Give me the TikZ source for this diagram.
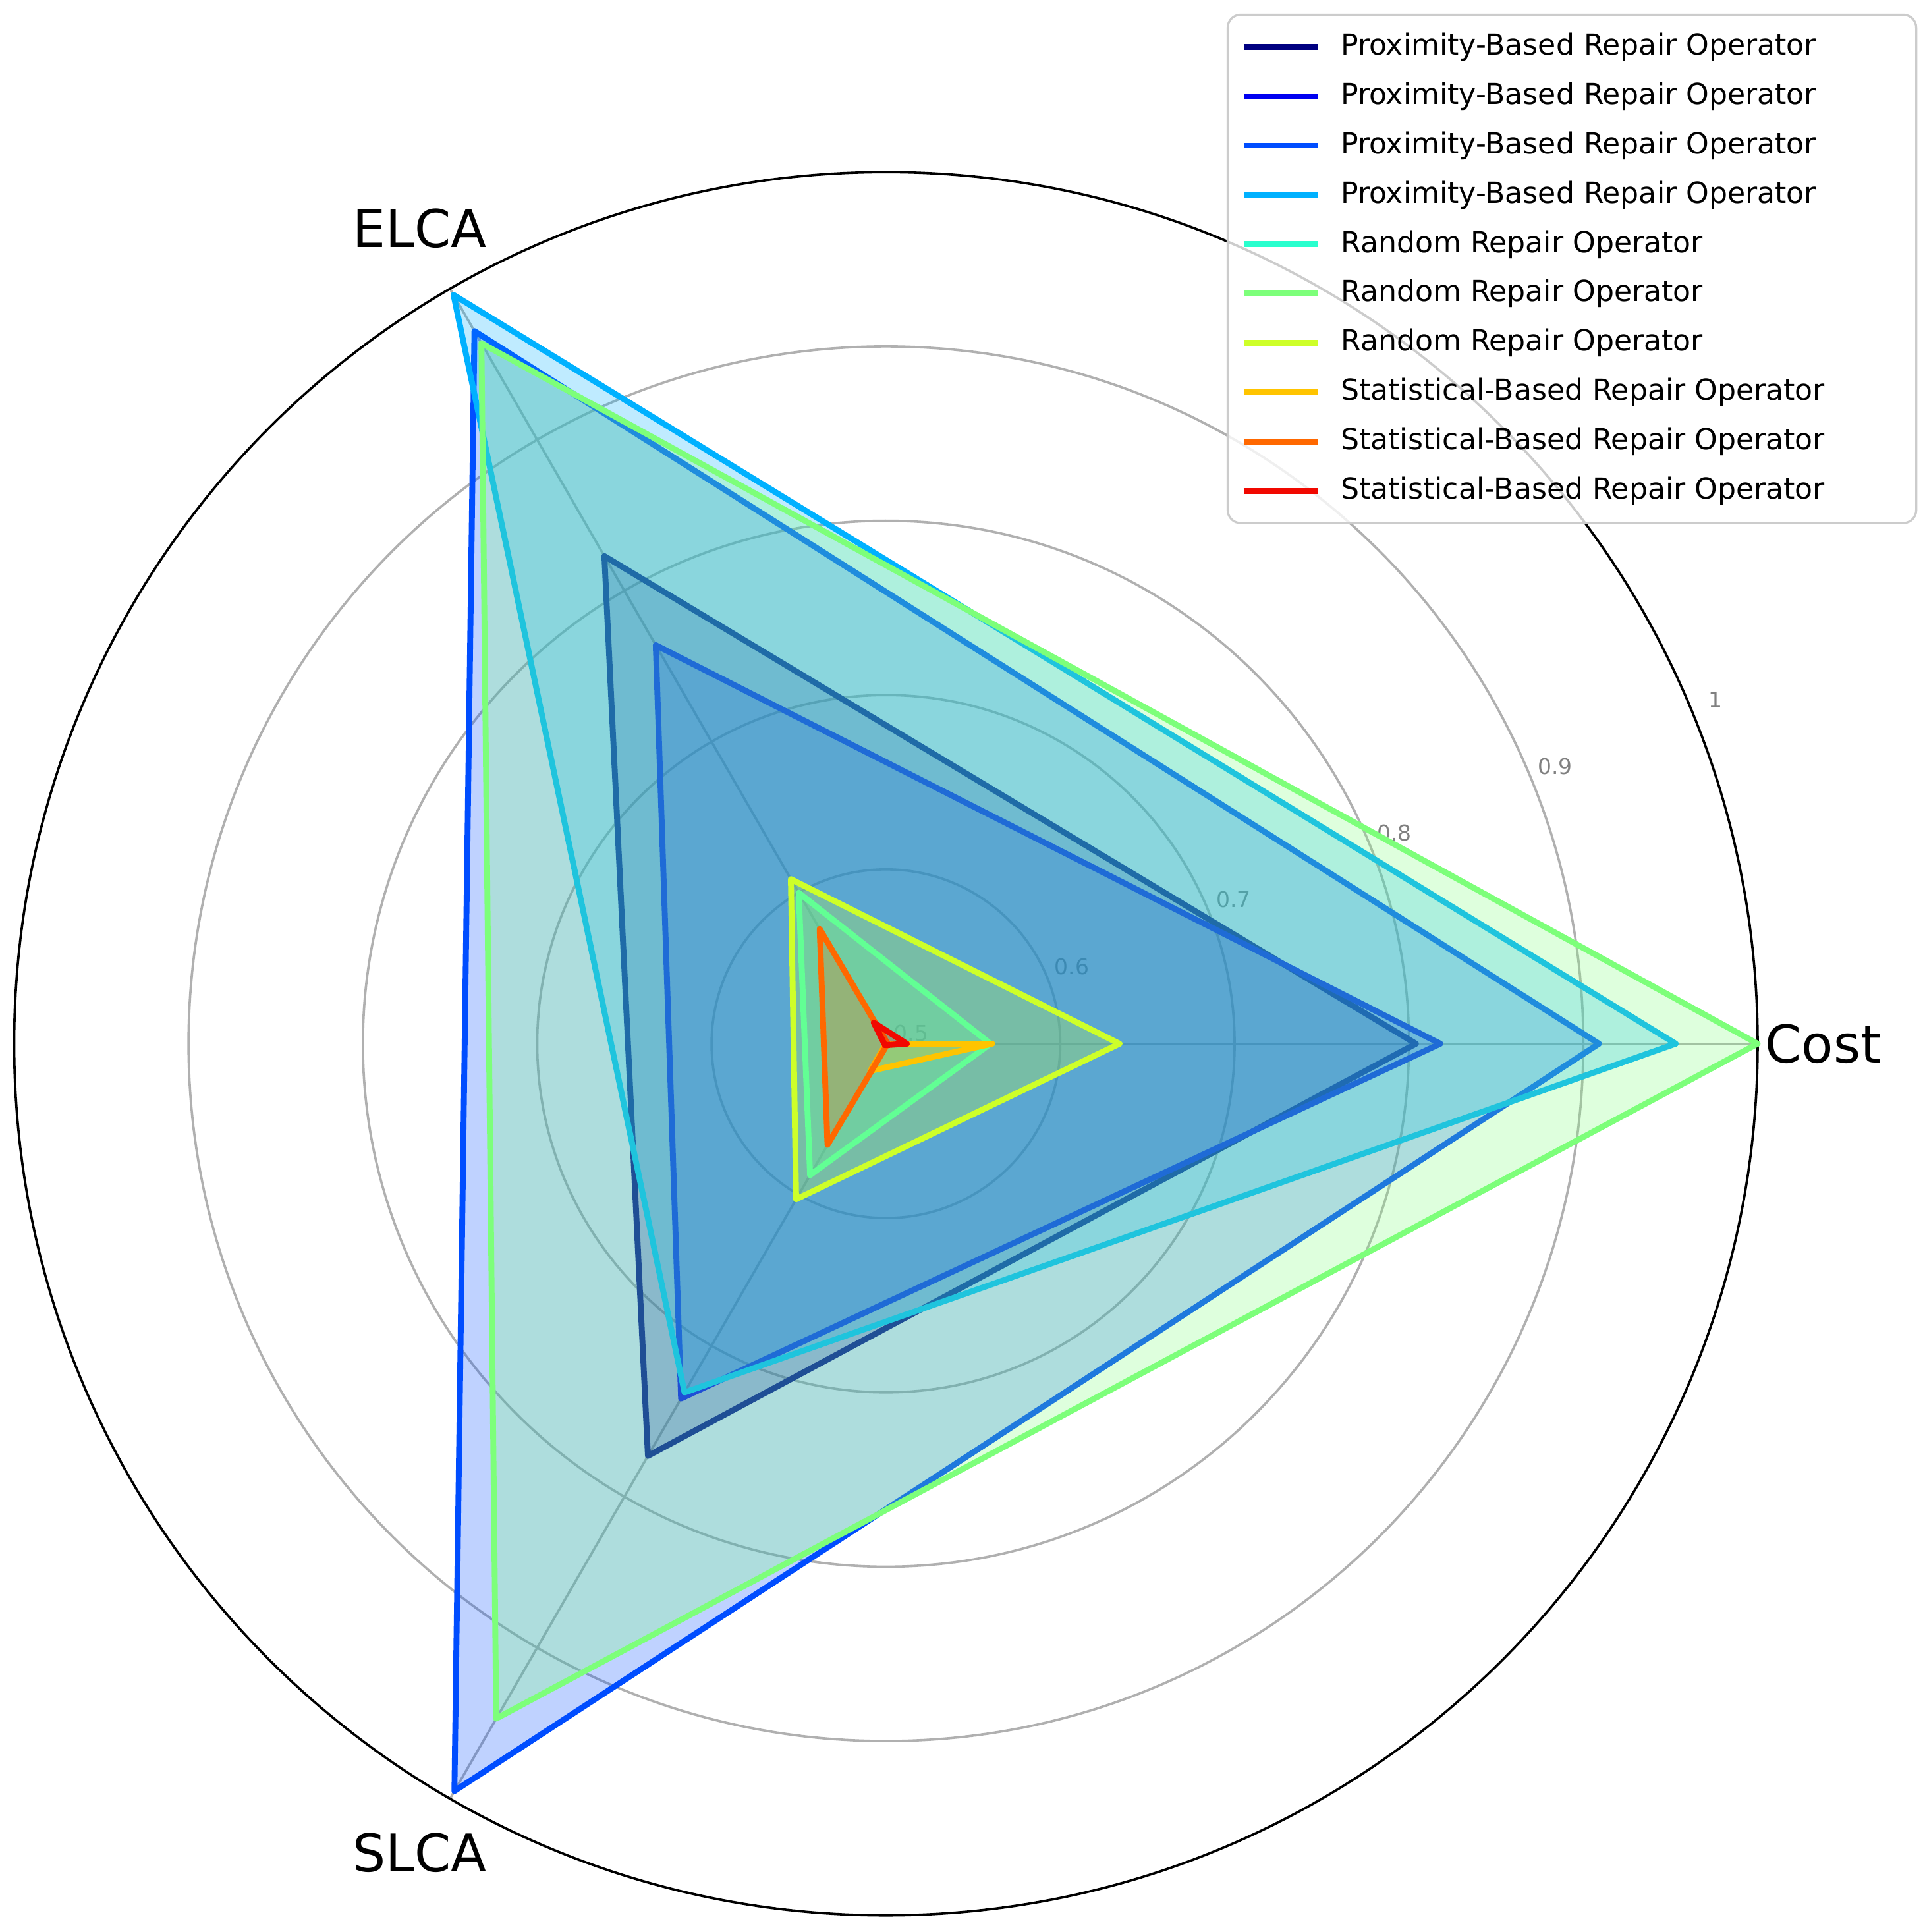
\documentclass[tikz,border=0pt]{standalone}
\usepackage{fontspec}
\setmainfont{DejaVu Sans}
\begin{document}
\begin{tikzpicture}[x=0.01cm,y=0.01cm,
  grid/.style={draw={rgb,255:red,176;green,176;blue,176},line width=0.55pt},
  series/.style={line width=1.35pt,line join=round,draw=#1,fill=#1,fill opacity=0.25,draw opacity=1},
  tick/.style={text={rgb,255:red,128;green,128;blue,128},font=\fontsize{5}{6}\selectfont,inner sep=0pt},
  axlab/.style={font=\fontsize{12}{14}\selectfont,inner sep=0pt}]
\definecolor{c1}{HTML}{000080}
\definecolor{c2}{HTML}{0000F1}
\definecolor{c3}{HTML}{004DFF}
\definecolor{c4}{HTML}{00B1FF}
\definecolor{c5}{HTML}{29FFCE}
\definecolor{c6}{HTML}{7DFF7A}
\definecolor{c7}{HTML}{CEFF29}
\definecolor{c8}{HTML}{FFC400}
\definecolor{c9}{HTML}{FF6800}
\definecolor{c10}{HTML}{F10800}
\useasboundingbox (-718,-720) rectangle (842,846);
\fill[white] (-718,-720) rectangle (842,846);
% grid
\foreach \r in {141.3,282.6,423.9,565.2} \draw[grid] (0,0) circle (\r);
\foreach \a in {0,120,240} \draw[grid] (0,0) -- (\a:706.5);
\draw[black,line width=0.55pt] (0,0) circle (706.5);
% ticks
\foreach \v/\r in {0.5/22,0.6/163,0.7/305,0.8/446,0.9/587,1/728}
  \node[tick] at (22.5:\r) {\v};
% series: cost (0), ELCA (120), SLCA (240); r=(v-0.5)*1413
\newcommand{\radar}[4]{\draw[series=#1] (0:{(#2-0.5)*1413}) -- (120:{(#3-0.5)*1413}) -- (240:{(#4-0.5)*1413}) -- cycle;}
\radar{c1}{0.804}{0.823}{0.773}
\radar{c2}{0.818}{0.764}{0.735}
\radar{c3}{0.909}{0.972}{0.995}
\radar{c4}{0.953}{0.996}{0.731}
\radar{c5}{0.560}{0.600}{0.587}
\radar{c6}{1.000}{0.964}{0.947}
\radar{c7}{0.634}{0.609}{0.603}
\radar{c8}{0.561}{0.500}{0.518}
\radar{c9}{0.501}{0.576}{0.567}
\radar{c10}{0.512}{0.514}{0.501}
% axis labels
\node[axlab,anchor=west] (cost) at (712,0) {Cost};
\node[axlab] (elca) at (-378,661) {ELCA};
\node[axlab] (slca) at (-378,-656) {SLCA};
% legend
\draw[rounded corners=3pt,draw={rgb,255:red,204;green,204;blue,204},fill=white,fill opacity=0.8,line width=0.5pt] (277,834) rectangle (835,422);
\foreach \i/\c/\t in {0/c1/Proximity-Based Repair Operator,1/c2/Proximity-Based Repair Operator,2/c3/Proximity-Based Repair Operator,3/c4/Proximity-Based Repair Operator,4/c5/Random Repair Operator,5/c6/Random Repair Operator,6/c7/Random Repair Operator,7/c8/Statistical-Based Repair Operator,8/c9/Statistical-Based Repair Operator,9/c10/Statistical-Based Repair Operator}{
  \draw[\c,line width=1.35pt] (290,{808-40*\i}) -- (350,{808-40*\i});
  \node[anchor=west,inner sep=0pt,font=\fontsize{6.7}{8}\selectfont] at (368,{808-40*\i}) {\t};
}
\end{tikzpicture}
\end{document}
